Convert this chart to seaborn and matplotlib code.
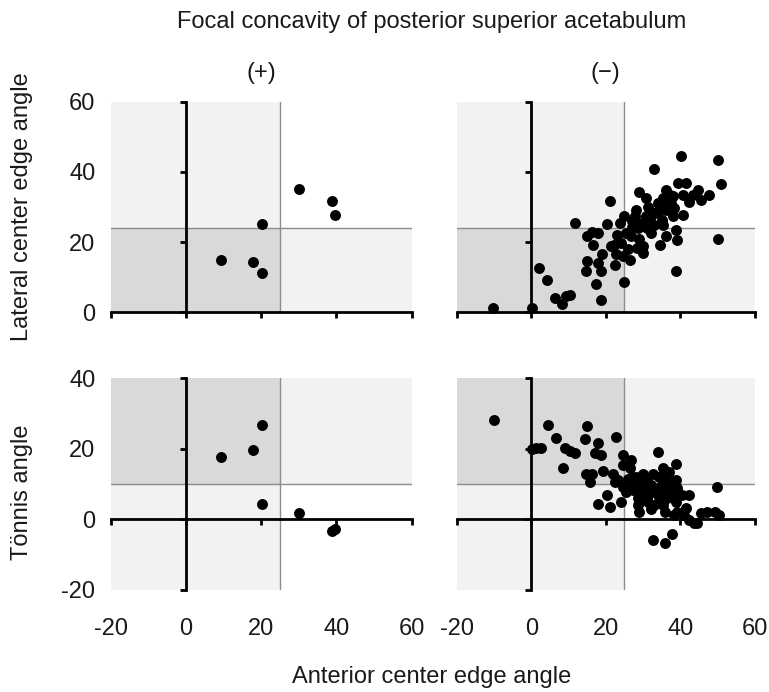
import matplotlib
matplotlib.use("Agg")
import matplotlib.pyplot as plt
import seaborn as sns
import numpy as np

# ---------------- data ----------------
# Focal concavity (+)
ace_pos = [30.1, 38.9, 39.6, 20.1, 9.3, 17.9, 20.1]
lce_pos = [35.1, 31.7, 27.8, 25.2, 14.8, 14.3, 11.3]
ace_pos_t = [30.1, 38.9, 39.6, 20.1, 9.3, 17.9, 20.1]
tonnis_pos = [1.9, -3.3, -2.8, 4.3, 17.8, 19.6, 26.8]

# Focal concavity (-) : ACE vs LCE
ace_neg = [-10.3, 0.3, 2.0, 4.3, 6.3, 8.3, 9.4, 10.5, 11.6, 18.6, 17.4, 21.0, 20.3,
           14.9, 16.4, 17.9, 16.5, 15.0, 14.6, 18.6, 17.9, 19.0, 21.3, 22.3, 24.1,
           22.8, 22.5, 24.6, 26.4, 24.8, 23.7, 25.0, 26.8, 27.1, 28.2, 29.0, 30.8,
           31.3, 28.3, 29.9, 28.6, 29.8, 30.7, 32.2, 33.1, 34.0, 35.3, 36.0, 37.1,
           35.3, 36.2, 34.4, 38.0, 38.9, 39.1, 38.4, 39.3, 41.4, 40.2, 40.7, 40.7,
           42.4, 43.3, 44.7, 45.6, 47.6, 50.0, 50.9, 50.0, 38.9, 32.8, 25.5, 27.7,
           31.8, 36.2, 37.4, 35.0,
           27.0, 29.0, 31.0, 33.0, 34.0, 36.0, 38.0, 30.0, 26.0, 23.0]
lce_neg = [1.3, 1.3, 12.7, 9.1, 4.0, 2.3, 4.7, 4.9, 25.5, 3.5, 8.0, 31.8, 25.2,
           21.6, 23.0, 22.7, 19.2, 14.7, 11.9, 11.9, 14.1, 16.6, 19.0, 19.2, 19.7,
           16.6, 13.5, 15.9, 14.9, 8.5, 25.5, 27.4, 21.6, 24.4, 29.2, 34.4, 32.5,
           30.1, 18.2, 16.8, 23.9, 25.4, 27.3, 22.5, 28.2, 31.1, 32.5, 34.9, 33.4,
           24.9, 21.6, 19.2, 27.3, 23.5, 20.6, 29.6, 36.9, 36.9, 44.5, 33.4, 27.7,
           31.5, 33.4, 34.9, 32.0, 33.4, 43.4, 36.6, 20.8, 11.9, 40.7, 22.5, 27.3,
           26.8, 29.2, 31.1, 26.3,
           26.0, 21.0, 24.0, 25.0, 29.0, 31.0, 33.0, 19.0, 18.0, 22.0]

# Focal concavity (-) : ACE vs Tonnis
ace_neg_t = [-9.9, 0.3, 1.4, 2.5, 4.4, 6.5, 9.1, 10.3, 11.8, 8.5, 15.0, 14.4, 18.0,
             17.1, 18.8, 14.6, 16.3, 15.8, 19.3, 21.8, 22.8, 24.6, 26.8, 24.6, 23.3,
             24.6, 25.5, 18.0, 20.4, 21.1, 24.0, 27.3, 27.7, 28.6, 28.6, 28.8, 29.9,
             30.8, 31.2, 32.1, 32.7, 33.9, 34.3, 35.2, 35.7, 36.3, 35.2, 37.0, 38.8,
             38.8, 37.9, 38.8, 39.2, 40.5, 42.3, 41.4, 41.0, 38.3, 42.3, 43.6, 44.5,
             45.4, 47.2, 49.4, 50.3, 49.8, 32.7, 35.9, 37.7, 35.9, 34.3, 33.0, 31.2,
             26.4, 22.4, 29.9, 28.2, 25.9, 29.5, 35.2, 37.0,
             27.0, 30.0, 32.0, 34.0, 36.0, 31.0, 33.0, 28.0, 26.0, 39.0]
tonnis_neg = [28.2, 19.9, 20.3, 20.3, 26.9, 23.2, 20.3, 19.4, 18.7, 14.5, 26.5, 22.7,
              21.6, 18.7, 18.2, 13.0, 13.0, 10.7, 13.7, 13.0, 23.4, 18.2, 16.8, 15.4,
              11.2, 9.3, 7.8, 4.3, 6.9, 3.6, 4.8, 8.3, 10.2, 6.0, 4.1, 2.0, 13.0,
              8.8, 5.0, 9.7, 13.0, 19.2, 12.1, 14.5, 8.3, 6.0, 4.1, 9.7, 15.6, 11.2,
              7.4, 5.0, 2.2, 6.9, 6.9, 3.1, 1.2, 1.2, -0.2, -0.9, -1.1, 1.7, 2.0, 2.2,
              1.2, 9.3, -5.9, -6.8, -4.0, 2.2, 6.4, 7.8, 6.9, 14.5, 10.7, 10.2, 12.1,
              11.6, 7.8, 10.7, 13.5,
              12.0, 6.0, 3.0, 9.0, 12.0, 11.0, 4.0, 9.0, 9.0, 9.0]

x_range = (-20, 60)
x_ticks = [-20, 0, 20, 40, 60]
lce_range = (0, 60)
lce_ticks = [0, 20, 40, 60]
tonnis_range = (-20, 40)
tonnis_ticks = [-20, 0, 20, 40]
ace_cut = 25
lce_cut = 24
tonnis_cut = 10

title = "Focal concavity of posterior superior acetabulum"
col_titles = ["(+)", "(\u2212)"]
xlabel = "Anterior center edge angle"
ylabels = ["Lateral center edge angle", "T\u00f6nnis angle"]

# ---------------- style ----------------
sns.set_theme(style="white")
plt.rcParams["font.family"] = ["Liberation Sans", "DejaVu Sans"]
plt.rcParams["axes.unicode_minus"] = False
FS = 17
TXT = "#1a1a1a"
DARK = "#d9d9d9"
LIGHT = "#f2f2f2"

fig = plt.figure(figsize=(7.69, 6.92), dpi=100)
W, H = 769, 692
lefts = [110.7, 456.7]
widths = [301.0, 298.3]
tops = [101.7, 378.3]
bottoms = [312.3, 590.0]

axes = [[None, None], [None, None]]
for r in range(2):
    for c in range(2):
        ax = fig.add_axes([lefts[c] / W, 1 - bottoms[r] / H,
                           widths[c] / W, (bottoms[r] - tops[r]) / H])
        axes[r][c] = ax


def quad_panel(ax, xs, ys, yrange, yticks, ycut, dark_low):
    x0, x1 = x_range
    y0, y1 = yrange
    # shading
    ax.fill_between([x0, x1], y0, y1, color=LIGHT, lw=0, zorder=0.2)
    if dark_low:
        ax.fill_between([x0, ace_cut], y0, ycut, color=DARK, lw=0, zorder=0.3)
        ax.fill_between([ace_cut, x1], ycut, y1, color="white", lw=0, zorder=0.3)
    else:
        ax.fill_between([x0, ace_cut], ycut, y1, color=DARK, lw=0, zorder=0.3)
        ax.fill_between([ace_cut, x1], y0, ycut, color="white", lw=0, zorder=0.3)
    ax.axvline(ace_cut, color="#8c8c8c", lw=1.0, zorder=1)
    ax.axhline(ycut, color="#8c8c8c", lw=1.0, zorder=1)
    sns.scatterplot(x=xs, y=ys, ax=ax, color="black", s=62, linewidth=0,
                    clip_on=False, zorder=4, legend=False)
    ax.set_xlim(x_range)
    ax.set_ylim(yrange)
    ax.set_xticks(x_ticks)
    ax.set_yticks(yticks)
    for s in ["top", "right"]:
        ax.spines[s].set_visible(False)
    ax.spines["left"].set_position(("data", 0))
    ax.spines["bottom"].set_position(("data", 0))
    for s in ["left", "bottom"]:
        ax.spines[s].set_linewidth(2.0)
        ax.spines[s].set_color("black")
        ax.spines[s].set_zorder(3)
    ax.tick_params(direction="out", length=4, width=2.0, color="black",
                   labelleft=False, labelbottom=False, left=True, bottom=True)
    ax.set_xlabel("")
    ax.set_ylabel("")


data = [[(ace_pos, lce_pos), (ace_neg, lce_neg)],
        [(ace_pos_t, tonnis_pos), (ace_neg_t, tonnis_neg)]]
for r in range(2):
    yr = lce_range if r == 0 else tonnis_range
    yt = lce_ticks if r == 0 else tonnis_ticks
    yc = lce_cut if r == 0 else tonnis_cut
    for c in range(2):
        xs, ys = data[r][c]
        quad_panel(axes[r][c], xs, ys, yr, yt, yc, dark_low=(r == 0))

# tick labels on the left column (at axes edge)
for r in range(2):
    ax = axes[r][0]
    yt = lce_ticks if r == 0 else tonnis_ticks
    sec = ax.secondary_yaxis("left")
    sec.set_yticks(yt)
    sec.tick_params(length=0, pad=11, labelsize=FS, labelcolor=TXT)
    for s in sec.spines.values():
        s.set_visible(False)
    ax.set_ylabel(ylabels[r], fontsize=FS, color=TXT)
    ax.yaxis.set_label_coords(-0.258, 0.5 if r == 0 else 0.46)

# x tick labels on the bottom row
for c in range(2):
    ax = axes[1][c]
    sec = ax.secondary_xaxis("bottom")
    sec.set_xticks(x_ticks)
    sec.tick_params(length=0, pad=20, labelsize=FS, labelcolor=TXT)
    for s in sec.spines.values():
        s.set_visible(False)

for c in range(2):
    axes[0][c].set_title(col_titles[c], fontsize=FS, color=TXT, pad=16)

fig.text(432 / W, 1 - 22 / H, title, ha="center", va="center", fontsize=FS, color=TXT)
fig.text(432 / W, 1 - 677 / H, xlabel, ha="center", va="center", fontsize=FS, color=TXT)

fig.savefig("out.png", dpi=100)
